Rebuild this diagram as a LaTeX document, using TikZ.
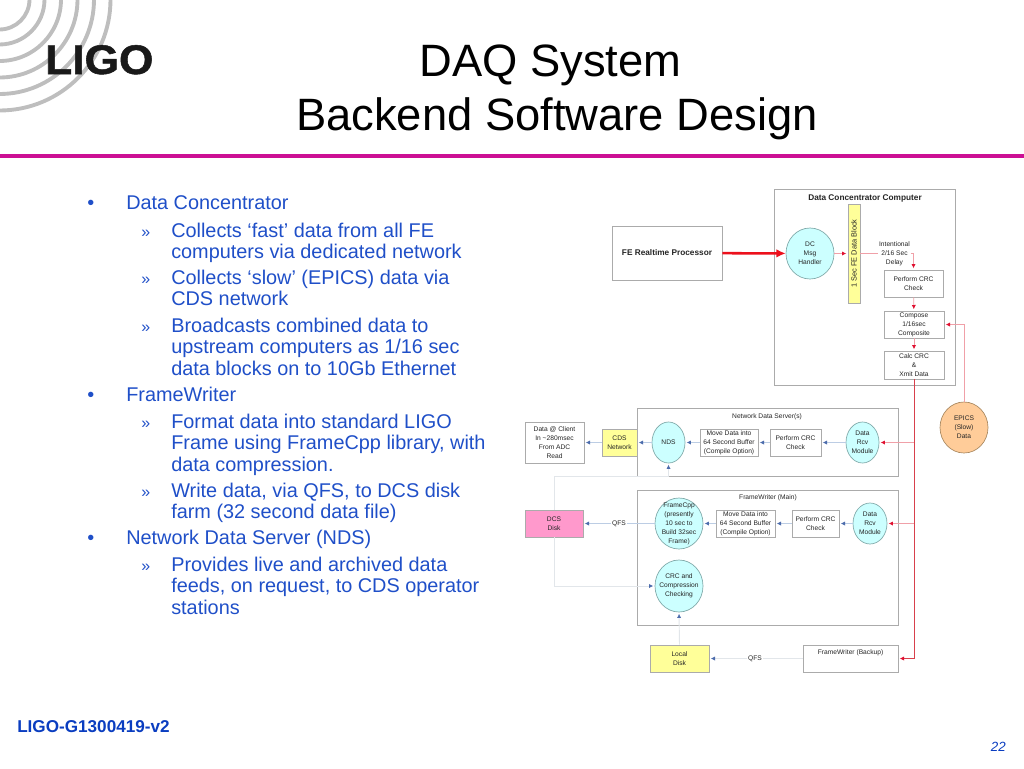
\documentclass[tikz,border=0pt]{standalone}
\usepackage{fontspec}
\setmainfont{Liberation Sans}
\newfontfamily\logofont[UprightFont=* Bold,FakeBold=1.2]{Liberation Sans}
\usetikzlibrary{arrows.meta,shapes.geometric}
\definecolor{bodyblue}{HTML}{1F4FC8}
\definecolor{footblue}{HTML}{0A3DC0}
\definecolor{rulemag}{HTML}{CC0F94}
\definecolor{arcgrey}{HTML}{BEBEBE}
\definecolor{boxgrey}{HTML}{ABABAB}
\definecolor{lineblue}{HTML}{BCCDE4}
\definecolor{linepale}{HTML}{E2E6EA}
\definecolor{tipblue}{HTML}{4C6CAC}
\definecolor{linered}{HTML}{F0A0A8}
\definecolor{redmain}{HTML}{D8404C}
\definecolor{tipred}{HTML}{E01030}
\definecolor{thickred}{HTML}{EC101C}
\definecolor{cyanfill}{HTML}{CCFFFF}
\definecolor{cyanedge}{HTML}{7FA8A8}
\definecolor{orangeedge}{HTML}{A88860}
\definecolor{yellowfill}{HTML}{FFFF99}
\definecolor{orangefill}{HTML}{FFCC99}
\definecolor{pinkfill}{HTML}{FF99CC}
\tikzset{
  sz/.style 2 args={minimum width=#1*0.75pt,minimum height=#2*0.75pt},
  dia/.style={font=\fontsize{5pt}{6.8pt}\selectfont,align=center,inner sep=0pt,text=black!85},
  boxn/.style={dia,draw=boxgrey,line width=0.6pt,fill=white},
  outer/.style={draw=boxgrey,line width=0.6pt,fill=white,inner sep=0pt},
  cyanell/.style={dia,ellipse,draw=cyanedge,line width=0.5pt,fill=cyanfill,inner sep=-8pt},
  ybox/.style={boxn,fill=yellowfill},
  lab/.style={dia,fill=white,inner sep=0.6pt},
  title/.style={font=\fontsize{34pt}{40pt}\selectfont,align=center,inner sep=0pt,text=black},
  bodytext/.style={anchor=base west,inner sep=0pt,text=bodyblue,font=\fontsize{14.9pt}{18pt}\selectfont},
  bl/.style={draw=lineblue,line width=0.6pt,-{Latex[length=3.2pt,width=3.2pt,color=tipblue]},shorten >=1pt},
  pl/.style={draw=linepale,line width=0.7pt,-{Latex[length=3.2pt,width=3.2pt,color=tipblue]},shorten >=1pt},
  rl/.style={draw=linered,line width=0.6pt,-{Latex[length=3.2pt,width=3.2pt,color=tipred]},shorten >=1pt},
  rm/.style={draw=redmain,line width=0.7pt,-{Latex[length=3.2pt,width=3.2pt,color=tipred]},shorten >=1pt},
}
\newcommand\bodyline[3]{\node[bodytext] (t#2) at (#1,#2) {#3};}
\begin{document}
\begin{tikzpicture}[x=0.75pt,y=-0.75pt]
\useasboundingbox (0,0) rectangle (1024,768);
% logo arcs
\begin{scope}
\clip (0,0) rectangle (200,150);
\foreach \r in {30,45,61.5,78,94.5,111}
  \draw[arcgrey,line width=2.9pt] (-0.5,-0.5) circle[radius=\r*0.75pt];
\end{scope}
\node[inner sep=0pt,anchor=base west,text=black!90,xscale=1.07,font=\fontsize{31pt}{36pt}\logofont] (logo) at (45,74) {LIGO};
% title and rule
\node[title] (title1) at (550.5,65) {DAQ System};
\node[title] (title2) at (557,119) {Backend Software Design};
\draw[rulemag,line width=3pt] (0,155.5) -- (1024,155.5);
% body
\foreach \y/\n in {209/a,401/b,544/c}{
  \node[bodytext] (bul\n) at (87,\y) {•};
}
\foreach \y/\n in {237/a,284/b,332/c,428/d,497/e,571/f}{
  \node[bodytext,font=\fontsize{12pt}{14pt}\selectfont] (sub\n) at (141,\y) {»};
}
\bodyline{126}{209}{Data Concentrator}
\bodyline{171}{237}{Collects ‘fast’ data from all FE}
\bodyline{171}{258}{computers via dedicated network}
\bodyline{171}{284}{Collects ‘slow’ (EPICS) data via}
\bodyline{171}{305}{CDS network}
\bodyline{171}{332}{Broadcasts combined data to}
\bodyline{171}{353}{upstream computers as 1/16 sec}
\bodyline{171}{375}{data blocks on to 10Gb Ethernet}
\bodyline{126}{401}{FrameWriter}
\bodyline{171}{428}{Format data into standard LIGO}
\bodyline{171}{449}{Frame using FrameCpp library, with}
\bodyline{171}{471}{data compression.}
\bodyline{171}{497}{Write data, via QFS, to DCS disk}
\bodyline{171}{518}{farm (32 second data file)}
\bodyline{126}{544}{Network Data Server (NDS)}
\bodyline{171}{571}{Provides live and archived data}
\bodyline{171}{592}{feeds, on request, to CDS operator}
\bodyline{171}{614}{stations}
% footer
\node[anchor=base west,inner sep=0pt,text=footblue,font=\fontsize{12.85pt}{14pt}\selectfont\bfseries] (doc) at (17,732.5) {LIGO-G1300419-v2};
\node[anchor=base east,inner sep=0pt,text=footblue,font=\fontsize{10pt}{12pt}\selectfont\itshape] (page) at (1006,751) {22};
% containers
\node[outer,sz={181}{196}] (dcc) at (864.5,287) {};
\node[outer,sz={261}{68}] (ndsbox) at (767.5,442) {};
\node[outer,sz={261}{135}] (fwbox) at (767.5,557.5) {};
\node[dia,font=\fontsize{6.2pt}{7pt}\selectfont\bfseries] (dcct) at (865,198) {Data Concentrator Computer};
\node[dia] (ndst) at (767,416.5) {Network Data Server(s)};
\node[dia] (fwt) at (768,497.5) {FrameWriter (Main)};
% concentrator
\node[boxn,sz={110}{54},font=\fontsize{6.2pt}{7pt}\selectfont\bfseries] (fe) at (667,253) {FE Realtime Processor};
\node[cyanell,sz={48}{51}] (dc) at (810,253.5) {DC\\Msg\\Handler};
\node[ybox,sz={12}{99}] (block) at (854,253.5) {};
\node[dia,rotate=90,font=\fontsize{5.55pt}{6.8pt}\selectfont] (blockt) at (854,253.5) {1 Sec FE Data Block};
\node[lab] (delay) at (894.5,253.5) {Intentional\\2/16 Sec\\Delay};
\node[boxn,sz={59}{27}] (crc0) at (913.5,283.5) {Perform CRC\\Check};
\node[boxn,sz={60}{27}] (comp) at (914,324.5) {Compose\\1/16sec\\Composite};
\node[boxn,sz={60}{28}] (calc) at (914,365) {Calc CRC\\\&\\Xmit Data};
\node[dia,ellipse,draw=orangeedge,line width=0.5pt,fill=orangefill,inner sep=-8pt,sz={48}{51}] (epics) at (964,427.5) {EPICS\\(Slow)\\Data};
% NDS row
\node[cyanell,sz={33}{41}] (rcv1) at (862.5,442.5) {Data\\Rcv\\Module};
\node[boxn,sz={51}{27}] (crc1) at (795.5,442.5) {Perform CRC\\Check};
\node[boxn,sz={58}{27}] (move1) at (729,442.5) {Move Data into\\64 Second Buffer\\(Compile Option)};
\node[cyanell,sz={33}{41}] (nds) at (668.5,442.5) {NDS};
\node[ybox,sz={35}{27}] (cds) at (619.5,442.5) {CDS\\Network};
\node[boxn,sz={59}{41}] (client) at (554.5,442.5) {Data @ Client\\In \textasciitilde280msec\\From ADC\\Read};
% FW row
\node[cyanell,sz={34}{41}] (rcv2) at (870,523.5) {Data\\Rcv\\Module};
\node[boxn,sz={47}{27}] (crc2) at (815.5,523.5) {Perform CRC\\Check};
\node[boxn,sz={59}{27}] (move2) at (745.5,523.5) {Move Data into\\64 Second Buffer\\(Compile Option)};
\node[cyanell,sz={48}{51}] (fcpp) at (679,523.5) {FrameCpp\\(presently\\10 sec to\\Build 32sec\\Frame)};
\node[boxn,fill=pinkfill,sz={58}{27}] (dcs) at (554,523.5) {DCS\\Disk};
\node[lab] (qfs1) at (619,523.5) {QFS};
\node[cyanell,sz={48}{52}] (crcc) at (679,586) {CRC and\\Compression\\Checking};
\node[ybox,sz={59}{27}] (local) at (679.5,658.5) {Local\\Disk};
\node[outer,sz={95}{27}] (fwb) at (850.5,658.5) {};
\node[dia] (fwbt) at (850.5,653) {FrameWriter (Backup)};
\node[lab] (qfs2) at (755,658.5) {QFS};
% turning points
\coordinate (j1) at (914,442.5);
\coordinate (j2) at (914,523.5);
\coordinate (ndsturn) at (668.5,476);
% connectors
\draw[draw=thickred,line width=1.9pt,-{Latex[length=7pt,width=6.5pt,color=thickred]}] (fe) -- (dc);
\draw[rl] (dc) -- (block);
\draw[draw=linered,line width=0.6pt] (block) -- (delay);
\draw[rl] (delay.east) -| (crc0.north);
\draw[rl] (crc0) -- (comp);
\draw[rl] (comp) -- (calc);
\draw[rl] (epics.north) |- (comp.east);
\draw[rm] (calc.south) |- (fwb.east);
\draw[rl] (j1) -- (rcv1.east);
\draw[rl] (j2) -- (rcv2.east);
\draw[bl] (rcv1) -- (crc1);
\draw[bl] (crc1) -- (move1);
\draw[bl] (move1) -- (nds);
\draw[bl] (nds) -- (cds);
\draw[bl] (cds) -- (client);
\draw[bl] (rcv2) -- (crc2);
\draw[bl] (crc2) -- (move2);
\draw[bl] (move2) -- (fcpp);
\draw[draw=lineblue,line width=0.6pt] (fcpp) -- (qfs1);
\draw[bl] (qfs1) -- (dcs);
\draw[pl] (dcs.north) |- (ndsturn) -- (nds.south);
\draw[pl] (dcs.south) |- (crcc.west);
\draw[pl] (local.north) -- (crcc.south);
\draw[draw=linepale,line width=0.7pt] (fwb) -- (qfs2);
\draw[pl] (qfs2) -- (local);
\end{tikzpicture}
\end{document}
